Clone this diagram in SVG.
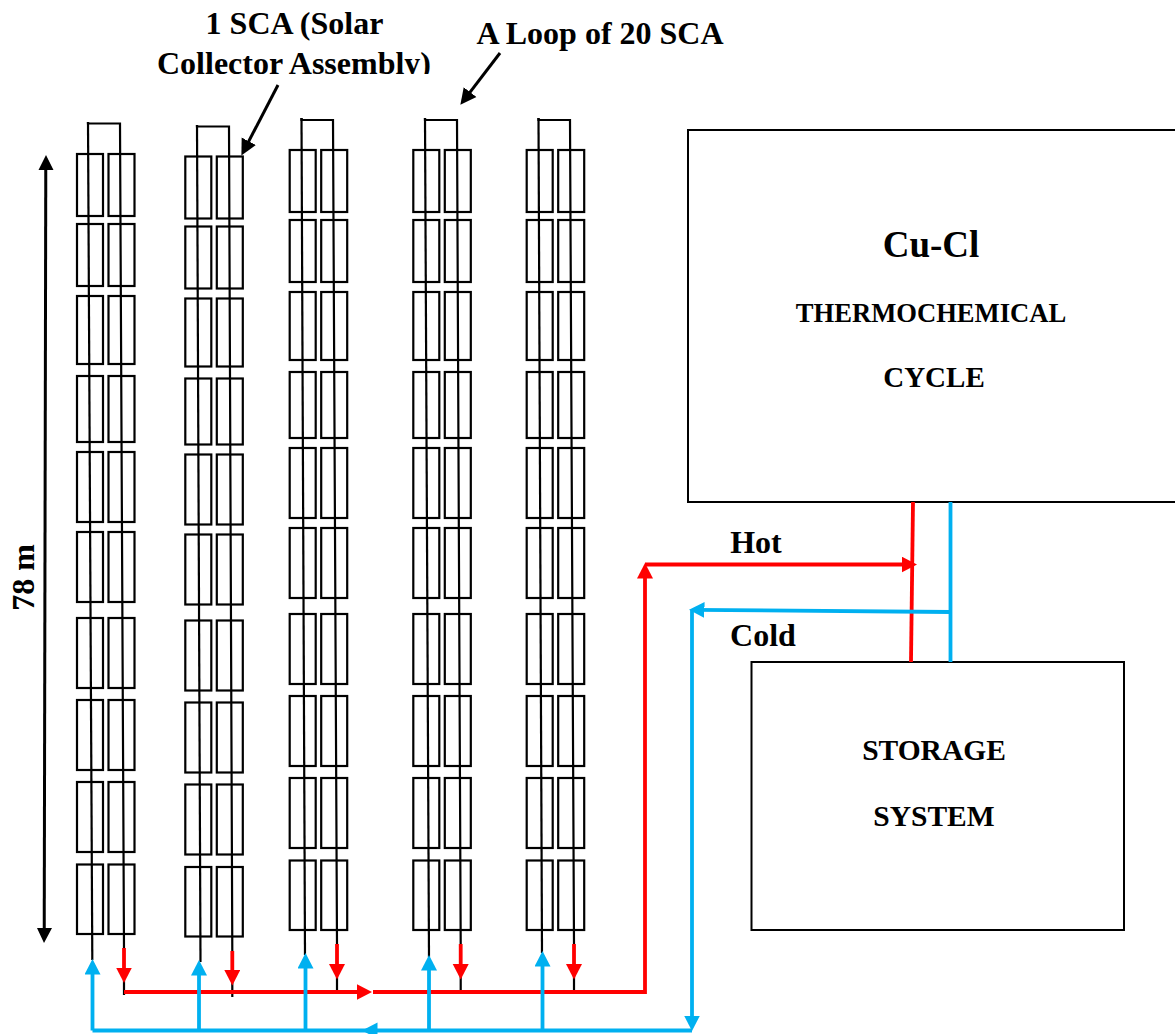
<svg xmlns="http://www.w3.org/2000/svg" xmlns:xlink="http://www.w3.org/1999/xlink" width="1175" height="1034" viewBox="0 0 1175 1034">
<style>
text{font-family:"Liberation Serif","Times New Roman",serif;font-weight:bold;fill:#000;text-anchor:middle}
.t{font-size:32px}
.m{font-size:29.500px}
.box{fill:#fff;stroke:#000;stroke-width:2}
.sca{fill:none;stroke:#000;stroke-width:2.200}
.pipe{fill:none;stroke:#000;stroke-width:2.200}
.red{fill:none;stroke:#f00;stroke-width:3.800}
.blue{fill:none;stroke:#00b0f0;stroke-width:3.800}
.blk{fill:none;stroke:#000;stroke-width:3}
</style>
<defs>
<clipPath id="clipLabel"><rect x="100" y="0" width="400" height="74"/></clipPath>
<marker id="hr" markerUnits="userSpaceOnUse" markerWidth="17" markerHeight="17" refX="11" refY="8" orient="auto"><path d="M0,0 L15.500,8 L0,16 z" fill="#f00"/></marker>
<marker id="hb" markerUnits="userSpaceOnUse" markerWidth="17" markerHeight="17" refX="11" refY="8" orient="auto"><path d="M0,0 L15.500,8 L0,16 z" fill="#00b0f0"/></marker>
<marker id="hk" markerUnits="userSpaceOnUse" markerWidth="18" markerHeight="18" refX="11" refY="9" orient="auto"><path d="M0,1 L16,9 L0,17 z" fill="#000"/></marker>
<g id="loop" class="sca">
<rect x="77" y="154" width="26" height="62"/><rect x="108.500" y="154" width="26" height="62"/>
<rect x="77" y="224" width="26" height="62"/><rect x="108.500" y="224" width="26" height="62"/>
<rect x="77" y="296" width="26" height="68"/><rect x="108.500" y="296" width="26" height="68"/>
<rect x="77" y="376" width="26" height="66"/><rect x="108.500" y="376" width="26" height="66"/>
<rect x="77" y="452" width="26" height="70"/><rect x="108.500" y="452" width="26" height="70"/>
<rect x="77" y="532" width="26" height="70"/><rect x="108.500" y="532" width="26" height="70"/>
<rect x="77" y="618" width="26" height="70"/><rect x="108.500" y="618" width="26" height="70"/>
<rect x="77" y="700" width="26" height="70"/><rect x="108.500" y="700" width="26" height="70"/>
<rect x="77" y="782" width="26" height="70"/><rect x="108.500" y="782" width="26" height="70"/>
<rect x="77" y="864.500" width="26" height="69.500"/><rect x="108.500" y="864.500" width="26" height="69.500"/>
</g>
</defs>
<rect width="1175" height="1034" fill="#fff"/>
<g id="loop-1"><use xlink:href="#loop" href="#loop"/></g>
<g id="loop-2"><use xlink:href="#loop" href="#loop" transform="translate(108.300 2.500)"/></g>
<g id="loop-3"><use xlink:href="#loop" href="#loop" transform="translate(212.700 -4)"/></g>
<g id="loop-4"><use xlink:href="#loop" href="#loop" transform="translate(336.300 -4)"/></g>
<g id="loop-5"><use xlink:href="#loop" href="#loop" transform="translate(449.700 -4)"/></g>
<g id="cycle">
<rect class="box" x="688" y="130" width="490" height="372"/>
<text x="931" y="257" style="font-size:37px">Cu-Cl</text>
<text x="931" y="322" style="font-size:26.600px">THERMOCHEMICAL</text>
<text x="934" y="387" style="font-size:29px">CYCLE</text>
</g>
<g id="storage">
<rect class="box" x="751.500" y="662" width="372.500" height="268"/>
<text x="934" y="760" class="m">STORAGE</text>
<text x="934" y="826" class="m">SYSTEM</text>
</g>
<g id="connectors">
<g class="pipe">
<path d="M88,122 V123.500 H120 L124,948"/><path d="M88,122 L92.300,960"/><path d="M124,980 V995"/>
<path d="M197,125 V126.500 H229 L232.300,951"/><path d="M197,125 L200.500,962"/><path d="M232.300,982 V997"/>
<path d="M301.500,118 V120 H333 L337,944"/><path d="M301.500,118 L305,955"/><path d="M337,976 V992"/>
<path d="M425,118 V120 H457 L460.700,944"/><path d="M425,118 L429,957"/><path d="M460.700,976 V992"/>
<path d="M538.500,118 V120 H570 L574,944"/><path d="M538.500,118 L542,953"/><path d="M574,976 V992"/>
</g>
<g class="red">
<path d="M124,948 V978.500" marker-end="url(#hr)"/>
<path d="M232.300,951 V981" marker-end="url(#hr)"/>
<path d="M337,944 V975" marker-end="url(#hr)"/>
<path d="M460.700,944 V975" marker-end="url(#hr)"/>
<path d="M574,944 V975" marker-end="url(#hr)"/>
<path d="M124,992 H367.500" marker-end="url(#hr)"/>
<path d="M373,992 H645 V567.500" marker-end="url(#hr)"/>
<path d="M645,564.500 H912.500" marker-end="url(#hr)"/>
<path d="M913,502 L911,662"/>
</g>
<g class="blue">
<path d="M92.500,1030.500 V963.500" marker-end="url(#hb)"/>
<path d="M199,1030.500 V964.500" marker-end="url(#hb)"/>
<path d="M305.500,1030.500 V957.500" marker-end="url(#hb)"/>
<path d="M429,1030.500 V959.500" marker-end="url(#hb)"/>
<path d="M542.500,1030.500 V955.500" marker-end="url(#hb)"/>
<path d="M692,1030.500 H366.500" marker-end="url(#hb)"/>
<path d="M367,1030.500 H92.500"/>
<path d="M692,610 V1026.500" marker-end="url(#hb)"/>
<path d="M950,612 L693.500,609.800" marker-end="url(#hb)"/>
<path d="M950.500,502 V662"/>
</g>
<path class="blk" d="M278,85 L243.700,151" marker-end="url(#hk)"/>
<path class="blk" d="M500,53 L463.400,100.800" marker-end="url(#hk)"/>
<path class="blk" d="M45.800,160 L44.200,938"/>
<path d="M46,155 L53.500,170 L38.500,170 z M44,943 L37,928 L52,928 z" fill="#000"/>
</g>
<g id="labels">
<text x="294.500" y="34" class="t">1 SCA (Solar</text>
<text x="294" y="74" class="t" clip-path="url(#clipLabel)">Collector Assembly)</text>
<text x="600" y="44" class="t">A Loop of 20 SCA</text>
<text x="756" y="553" class="t">Hot</text>
<text x="763" y="646" class="t">Cold</text>
<text transform="translate(34 577.500) rotate(-90)" class="t">78 m</text>
</g>
</svg>
